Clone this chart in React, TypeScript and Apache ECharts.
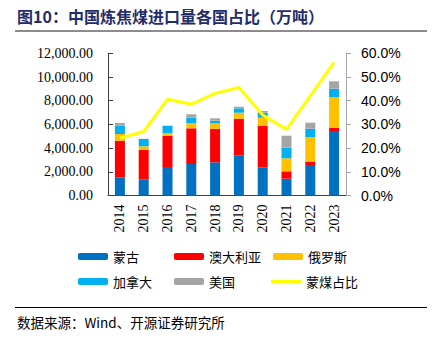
import React, { useEffect, useRef } from "react";
import * as echarts from "echarts";

const years = ["2014", "2015", "2016", "2017", "2018", "2019", "2020", "2021", "2022", "2023"];
const mongolia = [1536, 1333, 2405, 2658, 2800, 3392, 2380, 1420, 2574, 5443];
const australia = [3088, 2532, 2641, 3012, 2812, 3063, 3510, 620, 253, 253];
const russia = [566, 287, 228, 448, 478, 532, 675, 1100, 2084, 2591];
const canada = [700, 616, 591, 447, 222, 371, 422, 893, 726, 726];
const usa = [228, 20, 30, 287, 203, 136, 144, 1013, 506, 624];
const mongoliaShare = [24.2, 27.0, 40.6, 38.5, 43.1, 45.6, 34.0, 27.9, 42.0, 56.2];

const leftTicks = { min: 0, max: 12000, interval: 2000 };
const rightTicks = { min: 0, max: 60, interval: 10 };

const titleText = "图10：中国炼焦煤进口量各国占比（万吨）";
const sourceText = "数据来源：Wind、开源证券研究所";

const CJK = '"Noto Sans CJK SC", sans-serif';
const SERIF = '"Liberation Serif", "Times New Roman", serif';

export default function App() {
  const ref = useRef<HTMLDivElement>(null);
  useEffect(() => {
    document.body.style.margin = "0";
    const chart = echarts.init(ref.current!, null, { renderer: "svg" });
    const barNames = ["蒙古", "澳大利亚", "俄罗斯", "加拿大", "美国"];
    const barData = [mongolia, australia, russia, canada, usa];
    const colors = ["#0070C0", "#FF0000", "#FFC000", "#00B0F0", "#A5A5A5"];
    const legendBase = {
      itemWidth: 30,
      itemHeight: 7,
      itemGap: 0,
      textStyle: { fontSize: 13, fontFamily: CJK, color: "#000" },
      padding: 0,
    };
    const legendPos: [string, number, number][] = [
      ["蒙古", 78, 250],
      ["澳大利亚", 174, 250],
      ["俄罗斯", 273, 250],
      ["加拿大", 78, 275],
      ["美国", 174, 275],
    ];
    const legends: any[] = legendPos.map(([n, l, t]) => ({ ...legendBase, data: [n], left: l, top: t }));
    legends.push({
      ...legendBase,
      itemHeight: 3,
      left: 271,
      top: 275,
      data: [{ name: "蒙煤占比", icon: "rect", itemStyle: { color: "#FFFF00" } }],
    });
    chart.setOption({
      animation: false,
      grid: { left: 108, right: 87, top: 53.3, bottom: 146.5, containLabel: false },
      legend: legends,
      xAxis: {
        type: "category",
        data: years,
        boundaryGap: true,
        axisLine: { lineStyle: { color: "#404040", width: 1 } },
        axisTick: { inside: true, length: 5, lineStyle: { color: "#404040" } },
        axisLabel: { rotate: 90, margin: 9, fontSize: 14, fontFamily: SERIF, color: "#000" },
      },
      yAxis: [
        {
          type: "value",
          ...leftTicks,
          position: "left",
          splitLine: { show: false },
          axisLine: { show: true, lineStyle: { color: "#404040" } },
          axisTick: { show: true, inside: true, length: 5, lineStyle: { color: "#404040" } },
          axisLabel: {
            margin: 15,
            fontSize: 14,
            fontFamily: SERIF,
            color: "#000",
            formatter: (v: number) =>
              v.toLocaleString("en-US", { minimumFractionDigits: 2, maximumFractionDigits: 2 }),
          },
        },
        {
          type: "value",
          ...rightTicks,
          position: "right",
          splitLine: { show: false },
          axisLine: { show: true, lineStyle: { color: "#A6A6A6" } },
          axisTick: { show: true, inside: false, length: 5, lineStyle: { color: "#A6A6A6" } },
          axisLabel: {
            margin: 15,
            fontSize: 14,
            fontFamily: '"Liberation Sans", Arial, sans-serif',
            color: "#000",
            formatter: (v: number) => `${v.toFixed(1)}%`,
          },
        },
      ],
      series: [
        ...barNames.map((n, i) => ({
          name: n,
          type: "bar",
          stack: "total",
          barWidth: 10,
          data: barData[i],
          itemStyle: { color: colors[i] },
        })),
        {
          name: "蒙煤占比",
          type: "line",
          yAxisIndex: 1,
          data: mongoliaShare,
          symbol: "none",
          showSymbol: false,
          itemStyle: { color: "#FFFF00" },
          lineStyle: { color: "#FFFF00", width: 3 },
        },
      ],
      graphic: [
        {
          type: "text",
          x: 17,
          y: 16,
          style: {
            text: titleText,
            font: `bold 16px ${CJK}`,
            fill: "#1F2D6B",
            verticalAlign: "middle",
            textVerticalAlign: "middle",
          },
        },
        {
          type: "line",
          shape: { x1: 15, y1: 31, x2: 427, y2: 31 },
          style: { stroke: "#8C8C8C", lineWidth: 2 },
        },
        {
          type: "line",
          shape: { x1: 15, y1: 307.5, x2: 427, y2: 307.5 },
          style: { stroke: "#000", lineWidth: 1.2 },
        },
        {
          type: "text",
          x: 17,
          y: 322,
          style: {
            text: sourceText,
            font: `13.5px ${CJK}`,
            fill: "#000",
            verticalAlign: "middle",
            textVerticalAlign: "middle",
          },
        },
      ],
    });
    return () => chart.dispose();
  }, []);
  return <div ref={ref} style={{ width: 433, height: 342 }} />;
}
